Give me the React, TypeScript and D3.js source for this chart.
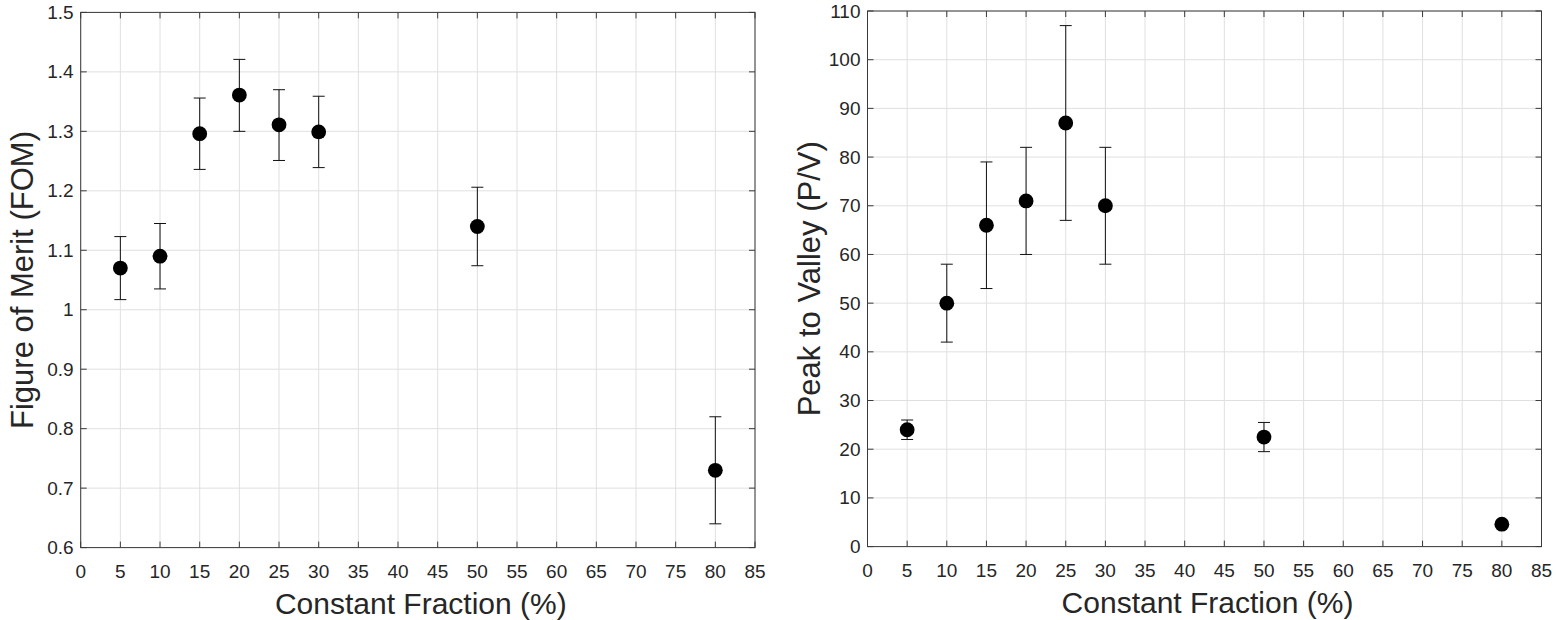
import { scaleLinear } from "d3";

// Constant fraction settings (%)
const fraction = [5, 10, 15, 20, 25, 30, 50, 80];

// Figure of merit, with error bar ends
const fom = [1.07, 1.09, 1.296, 1.361, 1.311, 1.299, 1.14, 0.73];
const fomLow = [1.017, 1.035, 1.236, 1.3, 1.251, 1.239, 1.074, 0.64];
const fomHigh = [1.123, 1.145, 1.356, 1.421, 1.37, 1.359, 1.206, 0.82];

// Peak to valley ratio, with error bar ends
const pv = [24, 50, 66, 71, 87, 70, 22.5, 4.6];
const pvLow = [22, 42, 53, 60, 67, 58, 19.5, 4.2];
const pvHigh = [26, 58, 79, 82, 107, 82, 25.5, 5.0];

// tick labels
const xTicks = [0, 5, 10, 15, 20, 25, 30, 35, 40, 45, 50, 55, 60, 65, 70, 75, 80, 85];
const fomTicks = [0.6, 0.7, 0.8, 0.9, 1, 1.1, 1.2, 1.3, 1.4, 1.5];
const pvTicks = [0, 10, 20, 30, 40, 50, 60, 70, 80, 90, 100, 110];

const FONT = "'Liberation Sans', Arial, Helvetica, sans-serif";
const AXIS = "#3a3a3a";
const GRID = "#e0e0e0";
const TICK_LEN = 6;

const Panel = ({ box, yDomain, yTicks, values, low, high, yLabel }) => {
  const x = scaleLinear().domain([0, 85]).range([box.left, box.right]);
  const y = scaleLinear().domain(yDomain).range([box.bottom, box.top]);
  const midX = (box.left + box.right) / 2;
  const midY = (box.top + box.bottom) / 2;

  return (
    <g>
      {/* grid */}
      {xTicks.map((t) => (
        <line key={"gx" + t} x1={x(t)} x2={x(t)} y1={box.top} y2={box.bottom} stroke={GRID} />
      ))}
      {yTicks.map((t) => (
        <line key={"gy" + t} x1={box.left} x2={box.right} y1={y(t)} y2={y(t)} stroke={GRID} />
      ))}

      {/* ticks on all four sides */}
      {xTicks.map((t) => (
        <g key={"tx" + t}>
          <line x1={x(t)} x2={x(t)} y1={box.bottom} y2={box.bottom - TICK_LEN} stroke={AXIS} />
          <line x1={x(t)} x2={x(t)} y1={box.top} y2={box.top + TICK_LEN} stroke={AXIS} />
          <text
            x={x(t)}
            y={box.bottom + 24}
            textAnchor="middle"
            dominantBaseline="central"
            fontSize={19}
            fill="#262626"
          >
            {t}
          </text>
        </g>
      ))}
      {yTicks.map((t) => (
        <g key={"ty" + t}>
          <line x1={box.left} x2={box.left + TICK_LEN} y1={y(t)} y2={y(t)} stroke={AXIS} />
          <line x1={box.right} x2={box.right - TICK_LEN} y1={y(t)} y2={y(t)} stroke={AXIS} />
          <text
            x={box.left - 7}
            y={y(t)}
            textAnchor="end"
            dominantBaseline="central"
            fontSize={19}
            fill="#262626"
          >
            {t}
          </text>
        </g>
      ))}

      {/* box */}
      <rect
        x={box.left}
        y={box.top}
        width={box.right - box.left}
        height={box.bottom - box.top}
        fill="none"
        stroke={AXIS}
      />

      {/* error bars and markers */}
      {fraction.map((f, i) => (
        <g key={"e" + f}>
          <line x1={x(f)} x2={x(f)} y1={y(low[i])} y2={y(high[i])} stroke="#111" />
          <line x1={x(f) - 6} x2={x(f) + 6} y1={y(low[i])} y2={y(low[i])} stroke="#111" />
          <line x1={x(f) - 6} x2={x(f) + 6} y1={y(high[i])} y2={y(high[i])} stroke="#111" />
          <circle cx={x(f)} cy={y(values[i])} r={7.4} fill="#000" />
        </g>
      ))}

      {/* axis labels */}
      <text x={midX + 3} y={box.bottom + 66} textAnchor="middle" fontSize={30} fill="#262626">
        Constant Fraction (%)
      </text>
      <text
        transform={`translate(${box.left - 48}, ${midY}) rotate(-90)`}
        textAnchor="middle"
        fontSize={31}
        fill="#262626"
      >
        {yLabel}
      </text>
    </g>
  );
};

const App = () => {
  const width = 1556;
  const height = 620;
  const leftBox = { left: 80.7, right: 755, top: 12.4, bottom: 547.6 };
  const rightBox = { left: 867.5, right: 1541.5, top: 11, bottom: 546.6 };

  return (
    <svg
      width={width}
      height={height}
      style={{ position: "absolute", left: 0, top: 0, background: "#fff", fontFamily: FONT }}
    >
      <rect width={width} height={height} fill="#fff" />
      <Panel
        box={leftBox}
        yDomain={[0.6, 1.5]}
        yTicks={fomTicks}
        values={fom}
        low={fomLow}
        high={fomHigh}
        yLabel="Figure of Merit (FOM)"
      />
      <Panel
        box={rightBox}
        yDomain={[0, 110]}
        yTicks={pvTicks}
        values={pv}
        low={pvLow}
        high={pvHigh}
        yLabel="Peak to Valley (P/V)"
      />
    </svg>
  );
};

export default App;
